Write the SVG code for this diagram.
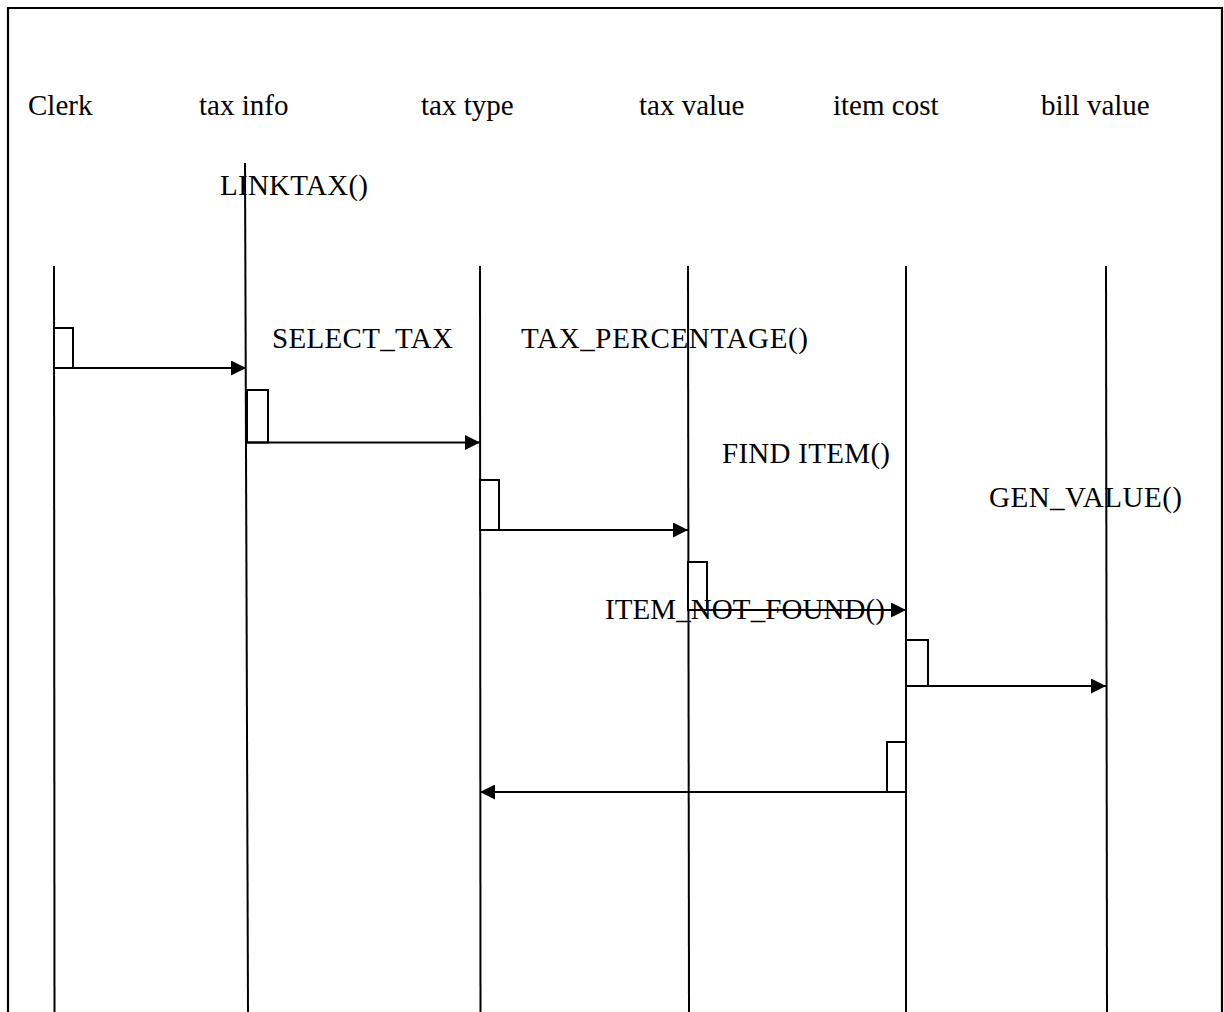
<svg xmlns="http://www.w3.org/2000/svg" width="1224" height="1012" viewBox="0 0 1224 1012">
<style>
text{font-family:"Liberation Serif","Times New Roman",serif;font-size:29px;fill:#000}
.ll{stroke:#000;stroke-width:2;fill:none}
.act{stroke:#000;stroke-width:2;fill:#fff}
.msg{stroke:#000;stroke-width:2;fill:none}
</style>
<defs>
<marker id="ah" markerWidth="15" markerHeight="15" refX="15" refY="7.5" orient="auto" markerUnits="userSpaceOnUse">
<path d="M0,0 L15,7.5 L0,15 Z" fill="#000"/>
</marker>
</defs>
<rect x="0" y="0" width="1224" height="1012" fill="#fff"/>
<path d="M8,1012 L8,8 L1222,8 L1222,1012" stroke="#000" stroke-width="2.2" fill="none"/>
<g id="clerk">
<text x="28" y="115">Clerk</text>
<line class="ll" x1="54" y1="266" x2="54.5" y2="1012"/>
<rect class="act" x="54" y="328" width="19" height="40"/>
</g>
<g id="taxinfo">
<text x="199" y="115">tax info</text>
<line class="ll" x1="245" y1="163" x2="248" y2="1012"/>
<rect class="act" x="247" y="390" width="21" height="52.5"/>
</g>
<g id="taxtype">
<text x="421" y="115">tax type</text>
<line class="ll" x1="480" y1="266" x2="480.5" y2="1012"/>
<rect class="act" x="480" y="480" width="19" height="50"/>
</g>
<g id="taxvalue">
<text x="639" y="115">tax value</text>
<line class="ll" x1="688" y1="266" x2="689" y2="1012"/>
<rect class="act" x="688" y="562" width="19" height="48"/>
</g>
<g id="itemcost">
<text x="833" y="115">item cost</text>
<line class="ll" x1="906" y1="266" x2="906" y2="1012"/>
<rect class="act" x="906" y="640" width="22" height="46"/>
<rect class="act" x="887" y="742" width="19" height="50"/>
</g>
<g id="billvalue">
<text x="1041" y="115">bill value</text>
<line class="ll" x1="1106" y1="266" x2="1107" y2="1012"/>
</g>
<g id="connectors">
<line class="msg" x1="54" y1="368" x2="246" y2="368" marker-end="url(#ah)"/>
<line class="msg" x1="247" y1="442.5" x2="480" y2="442.5" marker-end="url(#ah)"/>
<line class="msg" x1="480" y1="530" x2="688" y2="530" marker-end="url(#ah)"/>
<line class="msg" x1="688" y1="610" x2="906" y2="610" marker-end="url(#ah)"/>
<line class="msg" x1="906" y1="686" x2="1106" y2="686" marker-end="url(#ah)"/>
<line class="msg" x1="906" y1="792" x2="480" y2="792" marker-end="url(#ah)"/>
</g>
<g id="labels">
<text x="220" y="195" textLength="148">LINKTAX()</text>
<text x="272" y="348" textLength="181">SELECT_TAX</text>
<text x="521" y="348" textLength="287">TAX_PERCENTAGE()</text>
<text x="722" y="463" textLength="168">FIND ITEM()</text>
<text x="989" y="507" textLength="193">GEN_VALUE()</text>
<text x="605" y="619" textLength="280">ITEM_NOT_FOUND()</text>
</g>
</svg>
